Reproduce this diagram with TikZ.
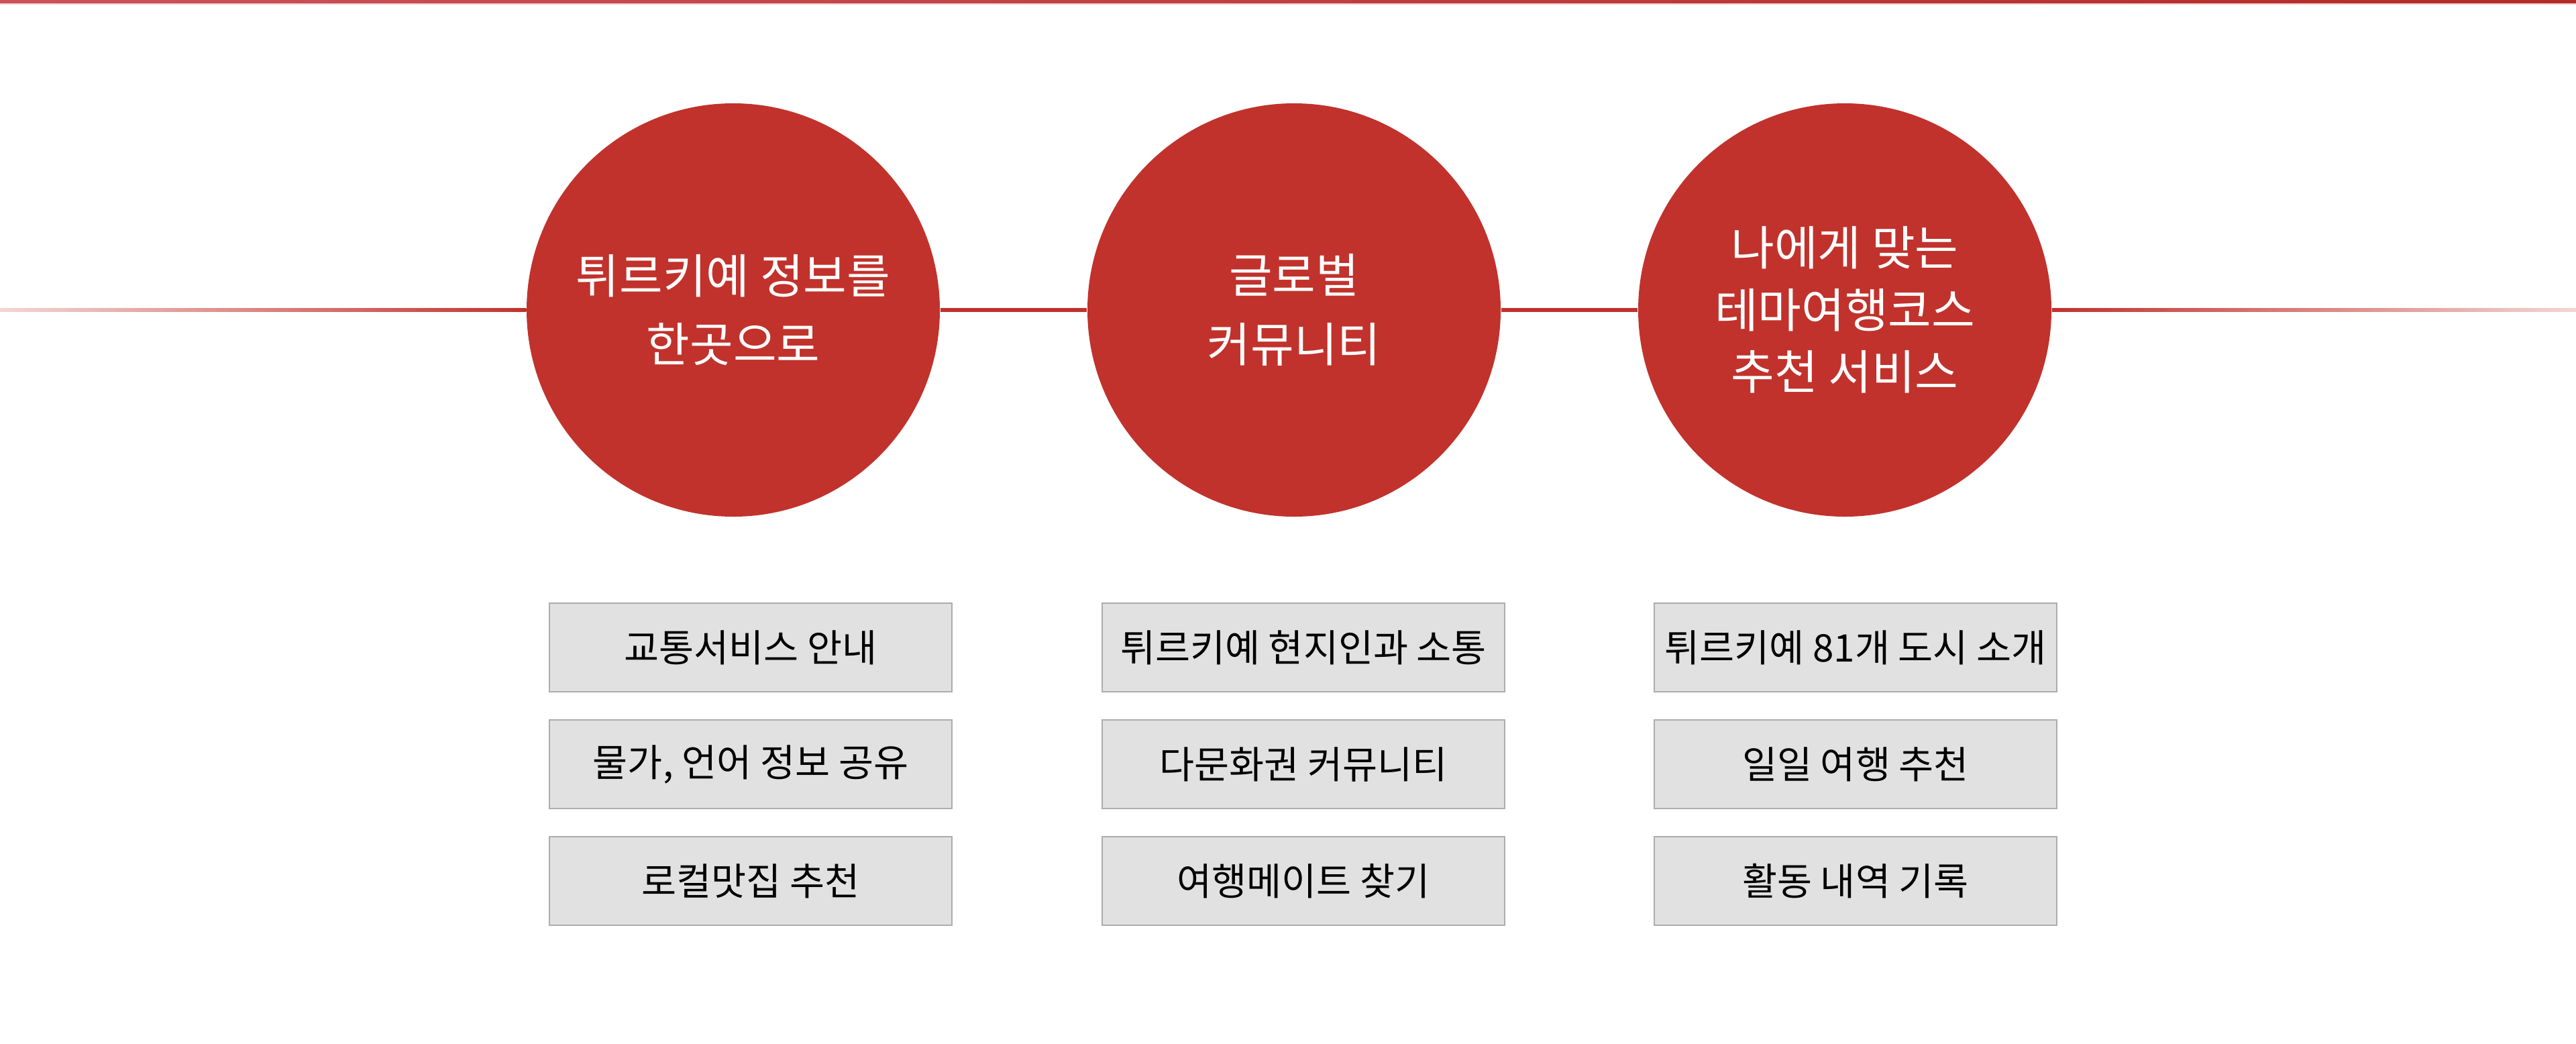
\documentclass[tikz,border=0pt]{standalone}
\usepackage{fontspec}
\newfontfamily\krfont{Noto Sans CJK KR}
\usetikzlibrary{positioning}

\definecolor{brandred}{HTML}{C1322C}
\definecolor{palered}{HTML}{F3D6D4}
\definecolor{barleft}{HTML}{CB525A}
\definecolor{barright}{HTML}{B52B28}
\definecolor{boxfill}{HTML}{E1E1E1}
\definecolor{boxline}{HTML}{ACACAC}

\tikzset{
  topic/.style={circle, fill=brandred, minimum size=6.16cm, inner sep=0pt,
    text=white, align=center, font=\krfont\fontsize{20}{26.3}\selectfont},
  feature/.style={rectangle, fill=boxfill, draw=boxline, line width=0.7pt,
    minimum width=6.0cm, minimum height=1.32cm, inner sep=0pt,
    font=\krfont\fontsize{16.1}{19}\selectfont},
  link/.style={brandred, line width=1.45pt},
}

\begin{document}
\begin{tikzpicture}
    \useasboundingbox (0,0) rectangle (38.4,-15.55);
    % ---------------- top bar
    \shade[left color=barleft, right color=barright] (0,0) rectangle (38.4,-0.05);
    \fill[palered] (0,-0.05) rectangle (38.4,-0.065);
    % ---------------- three topics on the timeline
    \node[topic] (info) at (10.93,-4.62) {튀르키예 정보를\\[0.1cm]한곳으로};
    \node[topic] (global) at (19.29,-4.62) {글로벌\\[0.1cm]커뮤니티};
    \node[topic] (theme) at (27.50,-4.62) {나에게 맞는\\테마여행코스\\추천 서비스};
    \coordinate (lineL) at (0,-4.62);
    \coordinate (lineR) at (38.4,-4.62);
    \shade[left color=palered, right color=brandred] ([yshift=-0.026cm]lineL) rectangle ([yshift=0.026cm]info.west);
    \shade[left color=brandred, right color=palered] ([yshift=-0.026cm]theme.east) rectangle ([yshift=0.026cm]lineR);
    \draw[link] (info) -- (global);
    \draw[link] (global) -- (theme);
    % ---------------- features under each topic
    \node[feature] (traffic) at (11.19,-9.65) {교통서비스 안내};
    \node[feature, below=0.395cm of traffic] (price) {물가, 언어 정보 공유};
    \node[feature, below=0.395cm of price] (food) {로컬맛집 추천};
    \node[feature] (locals) at (19.43,-9.65) {튀르키예 현지인과 소통};
    \node[feature, below=0.395cm of locals] (multi) {다문화권 커뮤니티};
    \node[feature, below=0.395cm of multi] (mate) {여행메이트 찾기};
    \node[feature] (cities) at (27.66,-9.65) {튀르키예 81개 도시 소개};
    \node[feature, below=0.395cm of cities] (daily) {일일 여행 추천};
    \node[feature, below=0.395cm of daily] (log) {활동 내역 기록};
\end{tikzpicture}
\end{document}
